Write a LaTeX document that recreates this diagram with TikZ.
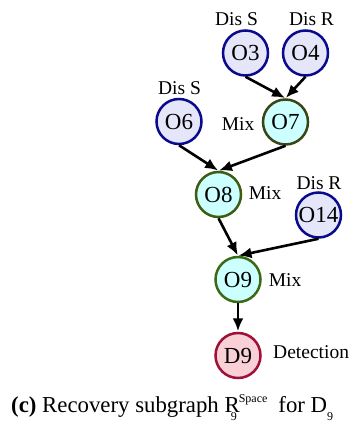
\documentclass[tikz,border=0pt]{standalone}
\usepackage{fontspec}
\setmainfont{Liberation Serif}
\usetikzlibrary{arrows.meta}

\definecolor{disfill}{HTML}{E6E6FA}
\definecolor{disdraw}{HTML}{0A0A8C}
\definecolor{mixfill}{HTML}{CCFFFF}
\definecolor{mixdrawA}{HTML}{3A4414}
\definecolor{mixdrawB}{HTML}{3E5C12}
\definecolor{mixdrawC}{HTML}{3C6A12}
\definecolor{detfill}{HTML}{F9D0D6}
\definecolor{detdraw}{HTML}{9E1038}

\newcommand{\smallidx}[1]{{\fontsize{12}{12}\selectfont #1}}

\tikzset{
  opnode/.style={circle, minimum size=45pt, inner sep=0pt, line width=2.5pt,
    font=\fontsize{23}{26}\selectfont},
  disnode/.style={opnode, fill=disfill, draw=disdraw},
  mixnode/.style={opnode, fill=mixfill},
  detnode/.style={opnode, fill=detfill, draw=detdraw},
  tag/.style={anchor=base, inner sep=0pt, font=\fontsize{19.5}{22}\selectfont},
  flow/.style={line width=2.6pt, -{Latex[length=13pt,width=11pt]}, shorten >=0.5pt},
}

\begin{document}
\begin{tikzpicture}[x=1pt, y=-1pt]
  \useasboundingbox (0,0) rectangle (351,422);

  % operation nodes
  \node[disnode] (O3)  at (245.5, 53)  {O3};
  \node[disnode] (O4)  at (305.5, 53)  {O4};
  \node[disnode] (O6)  at (179, 121.5) {O6};
  \node[mixnode, draw=mixdrawA] (O7) at (285.5, 122) {O7};
  \node[mixnode, draw=mixdrawB] (O8) at (218.5, 194.5) {O8};
  \node[disnode] (O14) at (318.5, 215) {O14};
  \node[mixnode, draw=mixdrawC] (O9) at (238, 279.5) {O9};
  \node[detnode] (D9)  at (238, 355.5) {D9};

  % operation type labels
  \node[tag] (tO3)  at (236.5, 26)  {Dis S};
  \node[tag] (tO4)  at (311.5, 26)  {Dis R};
  \node[tag] (tO6)  at (179.5, 95)  {Dis S};
  \node[tag] (tO7)  at (238, 130.5) {Mix};
  \node[tag] (tO8)  at (265, 199)   {Mix};
  \node[tag] (tO14) at (319, 189)   {Dis R};
  \node[tag] (tO9)  at (285, 286)   {Mix};
  \node[tag, anchor=base west] (tD9) at (273, 358) {Detection};

  % dependencies
  \draw[flow] (O3.south)  -- (O7.north);
  \draw[flow] (O4.south)  -- (O7.north);
  \draw[flow] (O6.south)  -- (O8.north);
  \draw[flow] (O7.south)  -- (O8.north);
  \draw[flow] (O8.south)  -- (O9.north);
  \draw[flow] (O14.south) -- (O9.north);
  \draw[flow] (O9.south)  -- (D9.north);

  % caption
  \node[anchor=base west, inner sep=0pt, font=\fontsize{22.8}{26}\selectfont] (cap) at (11, 412.5)
    {\textbf{(c)} Recovery subgraph
     R\rlap{\kern-9pt\raisebox{-8pt}{\smallidx{9}}}\kern-1pt\raisebox{10pt}{\smallidx{Space}}\hspace{11pt}for
     D\raisebox{-8pt}{\smallidx{9}}};
\end{tikzpicture}
\end{document}
